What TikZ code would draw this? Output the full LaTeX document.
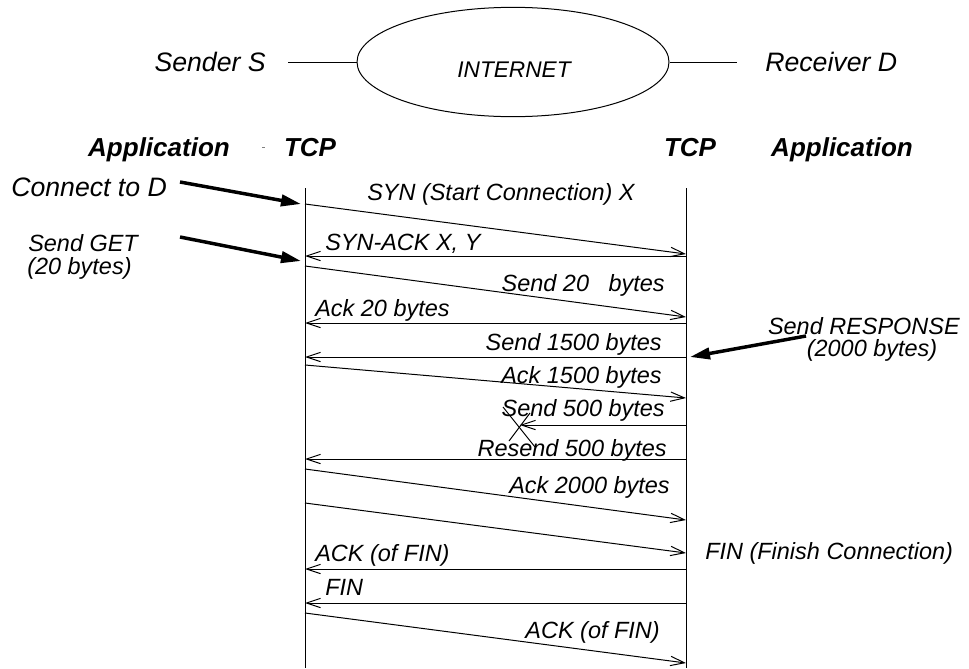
\documentclass[tikz,border=0pt]{standalone}
\usepackage{fontspec}
\setmainfont{Liberation Sans}
\usetikzlibrary{arrows.meta,shapes.geometric}
\begin{document}
\begin{tikzpicture}[x=0.75pt,y=-0.75pt,
  lbl/.style={inner sep=0pt, font=\itshape\fontsize{17.6pt}{20pt}\selectfont, text height=12.6pt, text depth=0pt},
  biglbl/.style={inner sep=0pt, font=\itshape\fontsize{20pt}{24pt}\selectfont, text height=14.3pt, text depth=0pt},
  headlbl/.style={inner sep=0pt, font=\bfseries\itshape\fontsize{19.5pt}{23pt}\selectfont, text height=14pt, text depth=0pt},
  msg/.style={line width=0.75pt, -{Straight Barb[length=10.5pt,width=7pt]}},
  life/.style={line width=0.75pt},
  apparrow/.style={line width=2.6pt, -{Triangle[length=15pt,width=8.5pt]}},
  thinline/.style={line width=0.75pt}
]
\useasboundingbox (0,0) rectangle (969,668);

% top: network
\node[biglbl, anchor=east] (sender) at (266,62) {Sender S};
\node[draw, thinline, ellipse, minimum width=234pt, minimum height=82pt, inner sep=0pt] (inet) at (513,62) {};
\node[lbl, font=\itshape\fontsize{17pt}{20pt}\selectfont] (inettext) at (514,69) {INTERNET};
\node[biglbl, anchor=west] (receiver) at (765,62) {Receiver D};
\coordinate (sl) at (288,62);
\coordinate (rl) at (737,62);
\draw[thinline] (sl) -- (inet.west);
\draw[thinline] (inet.east) -- (rl);

% headings
\node[headlbl] (appL) at (159,147) {Application};
\node[headlbl] (tcpL) at (310,147) {TCP};
\node[headlbl] (tcpR) at (690,147) {TCP};
\node[headlbl] (appR) at (842,147) {Application};
\coordinate (dot1) at (262,147.5);
\coordinate (dot2) at (265,147.5);
\draw[line width=0.5pt, gray] (dot1) -- (dot2);

% lifelines
\coordinate (Ltop) at (305,188);
\coordinate (Lbot) at (305,668);
\coordinate (Rtop) at (686,188);
\coordinate (Rbot) at (686,668);
\draw[life] (Ltop) -- (Lbot);
\draw[life] (Rtop) -- (Rbot);

% application events
\node[biglbl, anchor=west] (connect) at (11,187) {Connect to D};
\node[lbl, anchor=west] (sendget) at (28,243) {Send GET};
\node[lbl, anchor=west] (sendget2) at (27,266) {(20 bytes)};
\node[lbl, anchor=east] (sendresp) at (960,326) {Send RESPONSE};
\node[lbl] (sendresp2) at (872,348) {(2000 bytes)};
\coordinate (c0) at (180,182);
\coordinate (c1) at (301,204);
\coordinate (g0) at (180,237);
\coordinate (g1) at (301,261);
\coordinate (r0) at (806,336);
\coordinate (r1) at (690,357);
\draw[apparrow] (c0) -- (c1);
\draw[apparrow] (g0) -- (g1);
\draw[apparrow] (r0) -- (r1);

% messages
\coordinate (a1) at (305,204); \coordinate (b1) at (686,254);
\draw[msg] (a1) -- (b1);
\node[lbl, anchor=west] (m1) at (367,192) {SYN (Start Connection) X};

\coordinate (b2) at (686,256); \coordinate (a2) at (305,256);
\draw[msg] (b2) -- (a2);
\node[lbl, anchor=west] (m2) at (325,242) {SYN-ACK X, Y};

\coordinate (a3) at (305,266); \coordinate (b3) at (686,317);
\draw[msg] (a3) -- (b3);
\node[lbl, anchor=east] (m3) at (665,283) {Send 20\ \ \ bytes};

\coordinate (b4) at (686,323); \coordinate (a4) at (305,323);
\draw[msg] (b4) -- (a4);
\node[lbl, anchor=west] (m4) at (315,308) {Ack 20 bytes};

\coordinate (b5) at (686,357); \coordinate (a5) at (305,357);
\draw[msg] (b5) -- (a5);
\node[lbl, anchor=east] (m5) at (662,342) {Send 1500 bytes};

\coordinate (a6) at (305,365); \coordinate (b6) at (686,398);
\draw[msg] (a6) -- (b6);
\node[lbl, anchor=east] (m6) at (662,375) {Ack 1500 bytes};

\coordinate (b7) at (686,425); \coordinate (lost) at (520,425);
\draw[msg] (b7) -- (lost);
\node[lbl, anchor=east] (m7) at (665,408) {Send 500 bytes};
\coordinate (x1) at (503,407); \coordinate (x2) at (535,447);
\coordinate (x3) at (530,413); \coordinate (x4) at (509,441);
\draw[thinline] (x1) -- (x2);
\draw[thinline] (x3) -- (x4);

\coordinate (b8) at (686,459); \coordinate (a8) at (305,459);
\draw[msg] (b8) -- (a8);
\node[lbl, anchor=east] (m8) at (667,448) {Resend 500 bytes};

\coordinate (a9) at (305,469); \coordinate (b9) at (686,520);
\draw[msg] (a9) -- (b9);
\node[lbl, anchor=east] (m9) at (670,485) {Ack 2000 bytes};

\coordinate (a10) at (305,503); \coordinate (b10) at (686,553);
\draw[msg] (a10) -- (b10);
\node[lbl, anchor=west] (finc) at (705,551) {FIN (Finish Connection)};

\coordinate (b11) at (686,569); \coordinate (a11) at (305,569);
\draw[msg] (b11) -- (a11);
\node[lbl, anchor=west] (m11) at (315,553) {ACK (of FIN)};

\coordinate (b12) at (686,603); \coordinate (a12) at (305,603);
\draw[msg] (b12) -- (a12);
\node[lbl, anchor=west] (m12) at (325,587) {FIN};

\coordinate (a13) at (305,613); \coordinate (b13) at (686,663);
\draw[msg] (a13) -- (b13);
\node[lbl, anchor=east] (m13) at (660,630) {ACK (of FIN)};
\end{tikzpicture}
\end{document}
